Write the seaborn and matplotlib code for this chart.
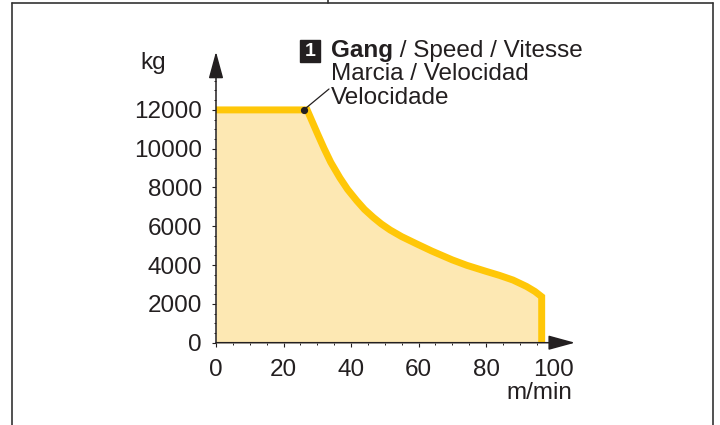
import matplotlib
matplotlib.use("Agg")
import matplotlib.pyplot as plt
import seaborn as sns
from matplotlib.patches import Rectangle
from matplotlib.ticker import FixedLocator

# Load curve (speed in m/min, load in kg)
speed = [0, 27, 28.5, 30, 32, 34, 36.7, 39, 41.7, 44, 46.6, 49, 51.6, 55, 59.5,
         64, 70, 74.3, 80, 84, 88, 92, 94.5, 96.5, 96.5]
load = [12000, 12000, 11400, 10800, 10020, 9300, 8500, 7900, 7320, 6870, 6460,
        6120, 5810, 5470, 5090, 4720, 4270, 3990, 3680, 3470, 3230, 2900, 2640,
        2370, 0]
marker_speed = 26
marker_load = 12000

x_ticks = [0, 20, 40, 60, 80, 100]
y_ticks = [0, 2000, 4000, 6000, 8000, 10000, 12000]
x_label = "m/min"
y_label = "kg"
note_lines = ["Gang", " / Speed / Vitesse", "Marcia / Velocidad", "Velocidade"]

sns.set_style("ticks")
plt.rcParams["font.family"] = ["Liberation Sans", "DejaVu Sans"]

ink = "#231f20"
yellow = "#ffc708"
fill = "#fde8b3"
W, H = 720, 425


def fx(px):
    return px / W


def fy(py):
    return 1 - py / H


fig = plt.figure(figsize=(7.2, 4.25), dpi=100)
ax = fig.add_axes([fx(216), fy(342.7), (575 - 216) / W, (342.7 - 51.7) / H])

ax.fill_between(speed, load, 0, color=fill, lw=0, zorder=1)
sns.lineplot(x=speed, y=load, sort=False, estimator=None, color=yellow, lw=5,
             ax=ax, zorder=2, clip_on=False)
for ln in ax.lines:
    ln.set_solid_joinstyle("miter")
    ln.set_solid_capstyle("butt")

ax.set_xlim(0, 359 / 3.375)
ax.set_ylim(0, 15000)
for s in ax.spines.values():
    s.set_visible(False)

ax.xaxis.set_major_locator(FixedLocator(x_ticks))
ax.yaxis.set_major_locator(FixedLocator(y_ticks))
ax.xaxis.set_minor_locator(FixedLocator([v for v in range(0, 100, 5) if v % 20]))
ax.yaxis.set_minor_locator(FixedLocator([v for v in range(0, 14000, 500) if v % 2000]))
ax.tick_params(which="major", direction="out", length=3, width=0.8, color=ink,
               labelsize=17.5, labelcolor=ink, pad=7)
ax.tick_params(which="minor", direction="out", length=1.6, width=0.7, color=ink)
ax.tick_params(axis="x", pad=9)

# axis arrows
arrow = dict(arrowstyle="-|>,head_length=1.1,head_width=0.3", color=ink, lw=1.1,
             shrinkA=0, shrinkB=0, mutation_scale=15)
ax.annotate("", xy=(1, 0), xytext=(0, 0), xycoords="axes fraction", arrowprops=arrow,
            zorder=5)
ax.annotate("", xy=(0, 1), xytext=(0, 0), xycoords="axes fraction", arrowprops=arrow,
            zorder=5)

fig.text(fx(140), fy(69), y_label, fontsize=17.5, color=ink, va="baseline")
fig.text(fx(572), fy(399), x_label, fontsize=17.5, color=ink, ha="right", va="baseline")

# annotation with numbered box
ax.plot(marker_speed, marker_load, "o", ms=4.2, color=ink, zorder=6, clip_on=False)
ax.annotate("", xy=(marker_speed, marker_load), xytext=(fx(329), fy(89)),
            textcoords="figure fraction",
            arrowprops=dict(arrowstyle="-", lw=0.9, color=ink, shrinkA=0, shrinkB=0))
fig.patches.append(Rectangle((fx(300), fy(62)), 20 / W, 22 / H, color=ink,
                             transform=fig.transFigure, figure=fig))
fig.text(fx(310), fy(51), "1", fontsize=14, fontweight="bold", color="white",
         ha="center", va="center")
t1 = fig.text(fx(331), fy(57), note_lines[0], fontsize=17.5, fontweight="bold",
              color=ink, va="baseline")
ax.annotate(note_lines[1], xy=(1, 0), xycoords=t1, fontsize=17.5, color=ink,
            va="bottom", annotation_clip=False)
fig.text(fx(331), fy(80.5), note_lines[2], fontsize=17.5, color=ink, va="baseline")
fig.text(fx(331), fy(104), note_lines[3], fontsize=17.5, color=ink, va="baseline")

# frame lines of the source table
frame = dict(color="#333333", lw=1.2, transform=fig.transFigure)
fig.lines.append(plt.Line2D([fx(12), fx(712.5)], [fy(2.5), fy(2.5)], **frame))
fig.lines.append(plt.Line2D([fx(12), fx(12)], [fy(2.5), 0], **frame))
fig.lines.append(plt.Line2D([fx(712.5), fx(712.5)], [fy(2.5), 0], **frame))
fig.lines.append(plt.Line2D([fx(328), fx(328)], [1, fy(2.5)], **frame))

fig.savefig("out.png", dpi=100)
